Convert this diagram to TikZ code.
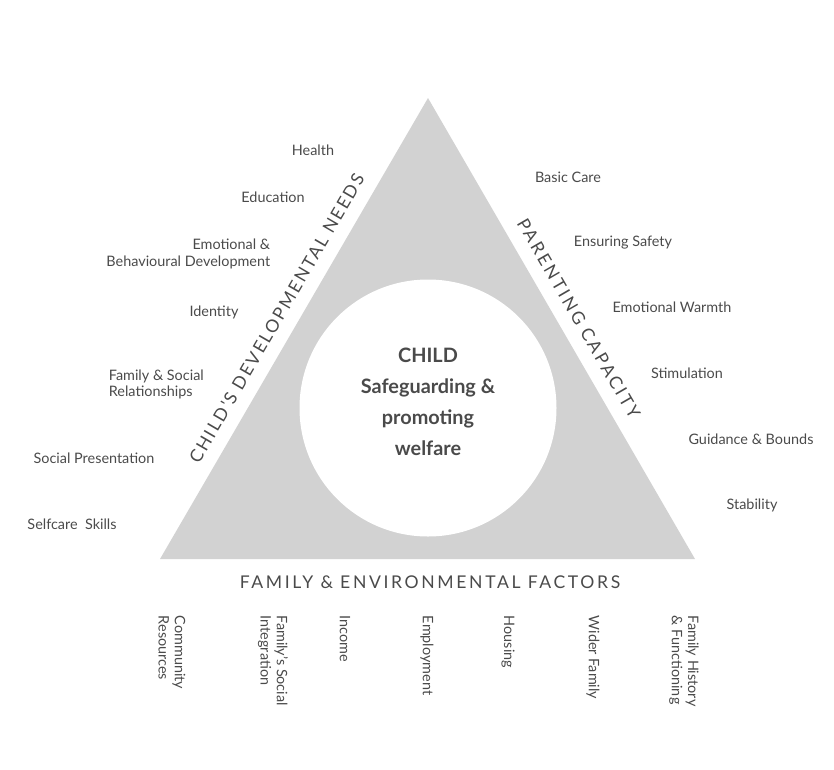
\documentclass[tikz,border=0pt]{standalone}
\usepackage{fontspec}
\setmainfont{Lato}
\newfontfamily\capsfont[LetterSpace=15]{Lato}
\newfontfamily\capsfonttight[LetterSpace=12]{Lato}
\definecolor{inkgray}{HTML}{4A4A4A}
\definecolor{shadegray}{HTML}{D2D2D2}

\begin{document}
\begin{tikzpicture}[x=2cm, y=2cm,
    every node/.style={text=inkgray, font=\fontsize{8.2}{9.2}\selectfont, inner sep=2pt},
    need/.style={align=center},
    factor/.style={rotate=-90, anchor=west, align=left},
    heading/.style={font=\capsfont\fontsize{10}{12}\selectfont}]
            \useasboundingbox (0,0) rectangle (8.34,-7.69);

            % Triangle and centre circle
            \coordinate (bl) at (1.60,-5.59);
            \coordinate (br) at (6.95,-5.59);
            \coordinate (top) at (4.28,-0.98);
            \fill[shadegray] (bl) -- (br) -- (top) -- cycle;
            \node[circle, fill=white, minimum size=5.14cm, inner sep=0pt] (hub) at (4.28,-4.08) {};
            \node[align=center, font=\bfseries\fontsize{11.3}{17.6}\selectfont] (child) at (4.28,-4.015) {CHILD\\Safeguarding \&\\promoting\\welfare};

            % Side headings
            \path (bl) -- (top) node[heading, font=\capsfonttight\fontsize{10}{12}\selectfont, midway, sloped, above=5.5pt] (cdn) {CHILD'S DEVELOPMENTAL NEEDS};
            \path (top) -- (br) node[heading, midway, sloped, above=5.5pt] (pc) {PARENTING CAPACITY};
            \node[heading] (fef) at (4.30,-5.82) {FAMILY \& ENVIRONMENTAL FACTORS};

            % Child's developmental needs
            \node[need] (health) at (3.13,-1.50) {Health};
            \node[need] (education) at (2.73,-1.97) {Education};
            \node[anchor=east, align=right] (emotional) at (2.74,-2.54) {Emotional \&\\Behavioural Development};
            \node[need] (identity) at (2.14,-3.12) {Identity};
            \node[anchor=west, align=left] (relations) at (1.05,-3.845) {Family \& Social\\Relationships};
            \node[need] (presentation) at (0.94,-4.58) {Social Presentation};
            \node[need] (selfcare) at (0.72,-5.24) {Selfcare~~Skills};

            % Parenting capacity
            \node[need] (basic) at (5.68,-1.77) {Basic Care};
            \node[need] (safety) at (6.23,-2.43) {Ensuring Safety};
            \node[need] (warmth) at (6.72,-3.07) {Emotional Warmth};
            \node[need] (stimulation) at (6.87,-3.73) {Stimulation};
            \node[need] (guidance) at (7.51,-4.39) {Guidance \& Bounds};
            \node[need] (stability) at (7.52,-5.05) {Stability};

            % Family and environmental factors
            \node[factor] (community) at (1.72,-6.12) {Community\\Resources};
            \node[factor] (integration) at (2.73,-6.12) {Family's Social\\Integration};
            \node[factor] (income) at (3.45,-6.12) {Income};
            \node[factor] (employment) at (4.27,-6.12) {Employment};
            \node[factor] (housing) at (5.08,-6.12) {Housing};
            \node[factor] (wider) at (5.93,-6.12) {Wider Family};
            \node[factor] (history) at (6.84,-6.12) {Family History\\\& Functioning};
        \end{tikzpicture}
\end{document}
